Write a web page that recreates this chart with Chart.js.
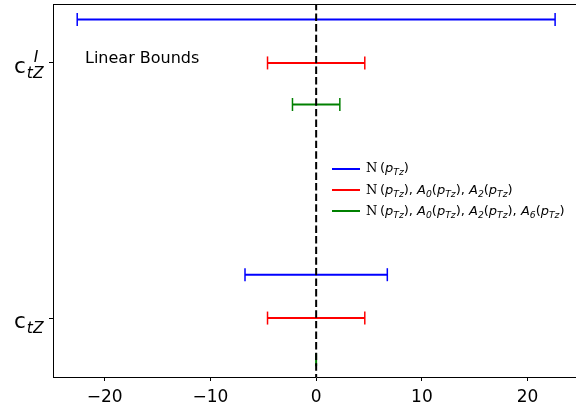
<!DOCTYPE html>
<html>
<head>
<meta charset="utf-8">
<script src="https://cdn.jsdelivr.net/npm/chart.js@4"></script>
<style>
  html, body { margin:0; padding:0; background:#fff; overflow:hidden; }
  #wrap { position:relative; width:580px; height:406px; }
  canvas { display:block; }
  .ylab { position:absolute; font-family:"DejaVu Sans"; color:#000; display:flex; align-items:center; white-space:nowrap; }
  .ylab .base { font-size:21.5px; line-height:1; }
  .ylab .scr { display:flex; flex-direction:column; font-style:italic; font-size:15.5px; line-height:1; margin-left:1px; }
  .ylab .sup { margin-left:7px; }
  #legend { position:absolute; left:332px; top:158px; font-family:"DejaVu Sans"; font-size:13px; color:#000; }
  .lrow { display:flex; align-items:center; height:21.4px; white-space:nowrap; }
  .lline { width:28px; height:0; border-top:2px solid; margin-right:6px; }
  .lrow i { font-style:italic; }
  .lrow sub { font-size:9.2px; font-style:italic; vertical-align:-3px; }
  .lrow .N { font-family:"DejaVu Serif"; }
  #title { position:absolute; left:85px; top:48px; font-family:"DejaVu Sans"; font-size:16px; color:#000; white-space:nowrap; }
</style>
</head>
<body>
<div id="wrap">
  <canvas id="c" width="580" height="406"></canvas>
  <div id="title">Linear Bounds</div>
  <div id="legend"></div>
</div>
<script>
// ---- data ----
const yCategories = ['ctZI', 'ctZ'];
const yPositions = [1, 0];
const seriesNames = ['N(pTz)', 'N(pTz),A0(pTz),A2(pTz)', 'N(pTz),A0(pTz),A2(pTz),A6(pTz)'];
const seriesColors = ['#0000ff', '#ff0000', '#008000'];
const seriesOffsets = [0.17, 0, -0.163];
// lower / upper bounds per category [ctZI, ctZ]
const lowN = [-22.6, -6.73];
const highN = [22.6, 6.73];
const lowNA0A2 = [-4.6, -4.6];
const highNA0A2 = [4.6, 4.6];
const lowNA0A2A6 = [-2.24, -0.02];
const highNA0A2A6 = [2.24, 0.02];
const xTicks = [-20, -10, 0, 10, 20];
const xMin = -24.89, xMax = 24.86;
const yMin = -0.231, yMax = 1.231;

const lows = [lowN, lowNA0A2, lowNA0A2A6];
const highs = [highN, highNA0A2, highNA0A2A6];

const datasets = [];
seriesNames.forEach((name, s) => {
  yCategories.forEach((cat, k) => {
    const y = yPositions[k] + seriesOffsets[s];
    datasets.push({
      label: name,
      data: [{x: lows[s][k], y: y}, {x: highs[s][k], y: y}],
      borderColor: seriesColors[s],
      backgroundColor: seriesColors[s],
      borderWidth: 2,
      showLine: true,
      pointStyle: 'line',
      rotation: 90,
      pointRadius: 6.5,
      pointHoverRadius: 6.5,
      pointBorderWidth: 1.5,
      order: 1
    });
  });
});
datasets.push({
  label: 'zero',
  data: [{x: 0, y: yMin - 0.1}, {x: 0, y: yMax + 0.1}],
  borderColor: '#000',
  borderWidth: 2,
  borderDash: [7.4, 3.2],
  showLine: true,
  pointRadius: 0,
  order: 0
});

const topSpine = {
  id: 'topSpine',
  afterDraw(chart) {
    const {ctx, chartArea} = chart;
    ctx.save();
    ctx.strokeStyle = '#000';
    ctx.lineWidth = 1;
    ctx.beginPath();
    ctx.moveTo(chartArea.left, chartArea.top + 0.5);
    ctx.lineTo(chartArea.right + 2, chartArea.top + 0.5);
    ctx.stroke();
    ctx.restore();
  }
};

const yLabelPlugin = {
  id: 'yLabels',
  afterRender(chart) {
    const wrap = document.getElementById('wrap');
    wrap.querySelectorAll('.ylab').forEach(e => e.remove());
    const ys = chart.scales.y;
    yCategories.forEach((cat, k) => {
      const py = ys.getPixelForValue(yPositions[k]);
      const d = document.createElement('div');
      d.className = 'ylab';
      const base = document.createElement('span');
      base.className = 'base';
      base.textContent = cat.charAt(0);
      const scr = document.createElement('span');
      scr.className = 'scr';
      const sup = document.createElement('span');
      sup.className = 'sup';
      sup.textContent = cat.length > 3 ? cat.charAt(3) : '\u00a0';
      const sub = document.createElement('span');
      sub.textContent = cat.substring(1, 3);
      scr.appendChild(sup); scr.appendChild(sub);
      d.appendChild(base); d.appendChild(scr);
      wrap.appendChild(d);
      const h = d.offsetHeight, w = d.offsetWidth;
      d.style.left = (44 - w) + 'px';
      d.style.top = (py - h / 2 + 3) + 'px';
    });
  }
};

// legend
const legend = document.getElementById('legend');
seriesNames.forEach((name, s) => {
  const row = document.createElement('div');
  row.className = 'lrow';
  const ln = document.createElement('span');
  ln.className = 'lline';
  ln.style.borderTopColor = seriesColors[s];
  row.appendChild(ln);
  const txt = document.createElement('span');
  const parts = name.split(',');
  txt.innerHTML = parts.map((p, i) => {
    const head = p.substring(0, p.indexOf('('));
    const inner = p.substring(p.indexOf('(') + 1, p.indexOf(')'));
    const headHtml = head === 'N' ? '<span class="N">N</span>\u2009' :
      '<i>' + head.charAt(0) + '</i><sub>' + head.substring(1) + '</sub>';
    return headHtml + '(<i>' + inner.charAt(0) + '</i><sub>' + inner.substring(1) + '</sub>)';
  }).join(', ');
  row.appendChild(txt);
  legend.appendChild(row);
});

new Chart(document.getElementById('c'), {
  type: 'scatter',
  data: { datasets },
  options: {
    responsive: false,
    animation: false,
    events: [],
    layout: { autoPadding: false, padding: { left: 0, right: 1, top: 4, bottom: 0 } },
    plugins: { legend: { display: false }, tooltip: { enabled: false } },
    scales: {
      x: {
        type: 'linear',
        min: xMin, max: xMax,
        afterBuildTicks: (sc) => { sc.ticks = xTicks.map(v => ({value: v})); },
        afterFit: (sc) => { sc.height = 29; sc.paddingLeft = 0; sc.paddingRight = 0; },
        grid: { drawOnChartArea: false, drawTicks: true, tickLength: 4, tickColor: '#000', tickWidth: 1 },
        border: { display: true, color: '#000', width: 1 },
        ticks: {
          padding: 6,
          color: '#000',
          font: { family: 'DejaVu Sans', size: 17 },
          callback: (v) => (v < 0 ? '\u2212' + Math.abs(v) : String(v))
        }
      },
      y: {
        type: 'linear',
        min: yMin, max: yMax,
        afterBuildTicks: (sc) => { sc.ticks = yPositions.map(v => ({value: v})); },
        afterFit: (sc) => { sc.width = 53; sc.paddingTop = 0; sc.paddingBottom = 0; },
        grid: { drawOnChartArea: false, drawTicks: true, tickLength: 4, tickColor: '#000', tickWidth: 1 },
        border: { display: true, color: '#000', width: 1 },
        ticks: { display: false }
      }
    }
  },
  plugins: [topSpine, yLabelPlugin]
});
</script>
</body>
</html>
